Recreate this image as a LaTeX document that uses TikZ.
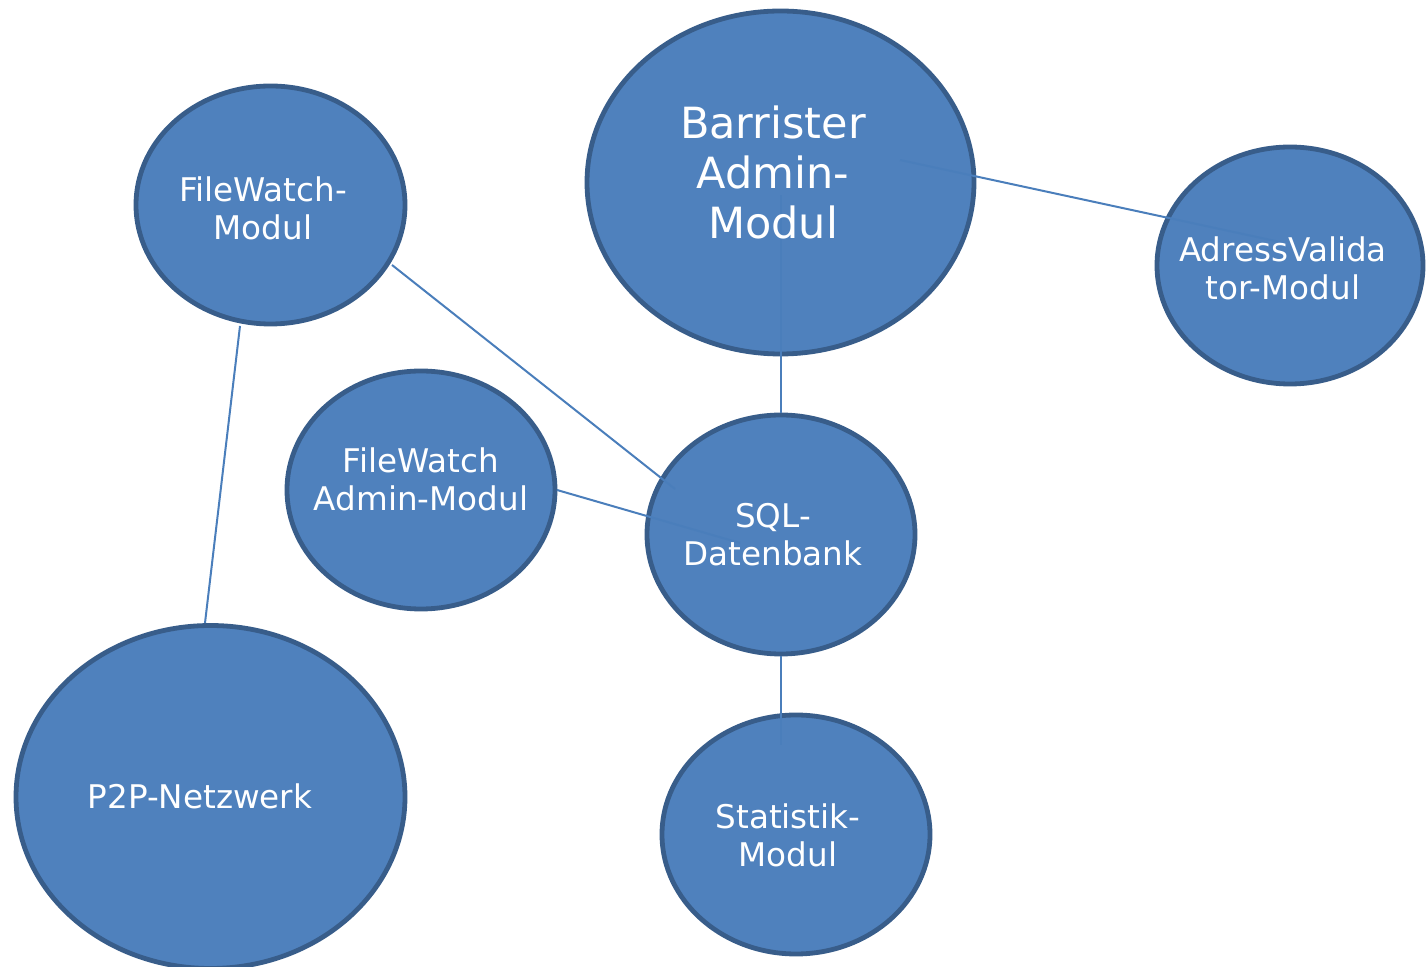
\documentclass[tikz,border=0pt]{standalone}
\usepackage{fontspec}
\setmainfont{DejaVu Sans}
\usetikzlibrary{shapes.geometric}
\definecolor{nodefill}{HTML}{4F81BD}
\definecolor{nodeedge}{HTML}{385D8A}
\definecolor{linkcol}{HTML}{4A7EBB}
\tikzset{
  blob/.style={ellipse, draw=nodeedge, fill=nodefill, line width=2.4pt, inner sep=0pt},
  lbl/.style={text=white, align=center, font=\fontsize{16.3}{19}\selectfont, inner sep=0pt},
  biglbl/.style={text=white, align=center, font=\fontsize{21.5}{25}\selectfont, inner sep=0pt},
  link/.style={draw=linkcol, line width=1pt}
}
\begin{document}
\begin{tikzpicture}[x=0.5pt,y=-0.5pt]
\useasboundingbox (0,0) rectangle (1426,967);
\node[blob, minimum width=134.5pt, minimum height=119pt] (fw) at (270.5,205) {};
\node[blob, minimum width=193.5pt, minimum height=171.5pt] (bar) at (780.5,182.5) {};
\node[blob, minimum width=133pt, minimum height=118.5pt] (adr) at (1290,265.5) {};
\node[blob, minimum width=134pt, minimum height=119pt] (fwa) at (421,490) {};
\node[blob, minimum width=134pt, minimum height=119.5pt] (sql) at (781,534.5) {};
\node[blob, minimum width=194.5pt, minimum height=171.5pt] (p2p) at (210.5,797) {};
\node[blob, minimum width=134pt, minimum height=119.5pt] (stat) at (796,834.5) {};

\coordinate (barA) at (900,160);
\coordinate (adrA) at (1280,242);
\coordinate (fwA) at (392,265);
\coordinate (sqlA) at (675,489);
\coordinate (fwaA) at (557,490);
\coordinate (sqlB) at (740,543);
\coordinate (sqlC) at (780.5,413);
\coordinate (barB) at (780.5,195);
\coordinate (sqlD) at (781,656);
\coordinate (statA) at (781,745);
\coordinate (fwB) at (240,326);
\coordinate (p2pA) at (205,623);

\draw[link] (barA) -- (adrA);
\draw[link] (fwA) -- (sqlA);
\draw[link] (fwaA) -- (sqlB);
\draw[link] (sqlC) -- (barB);
\draw[link] (sqlD) -- (statA);
\draw[link] (fwB) -- (p2pA);

\node[lbl] (fwt) at (263,208) {FileWatch-\\Modul};
\node[biglbl] (bart) at (773,172.5) {Barrister\\Admin-\\Modul};
\node[lbl] (adrt) at (1283,268) {AdressValida\\tor-Modul};
\node[lbl] (fwat) at (421,479) {FileWatch\\Admin-Modul};
\node[lbl] (sqlt) at (773,535) {SQL-\\Datenbank};
\node[lbl] (p2pt) at (200,796) {P2P-Netzwerk};
\node[lbl] (statt) at (788,835) {Statistik-\\Modul};
\end{tikzpicture}
\end{document}
